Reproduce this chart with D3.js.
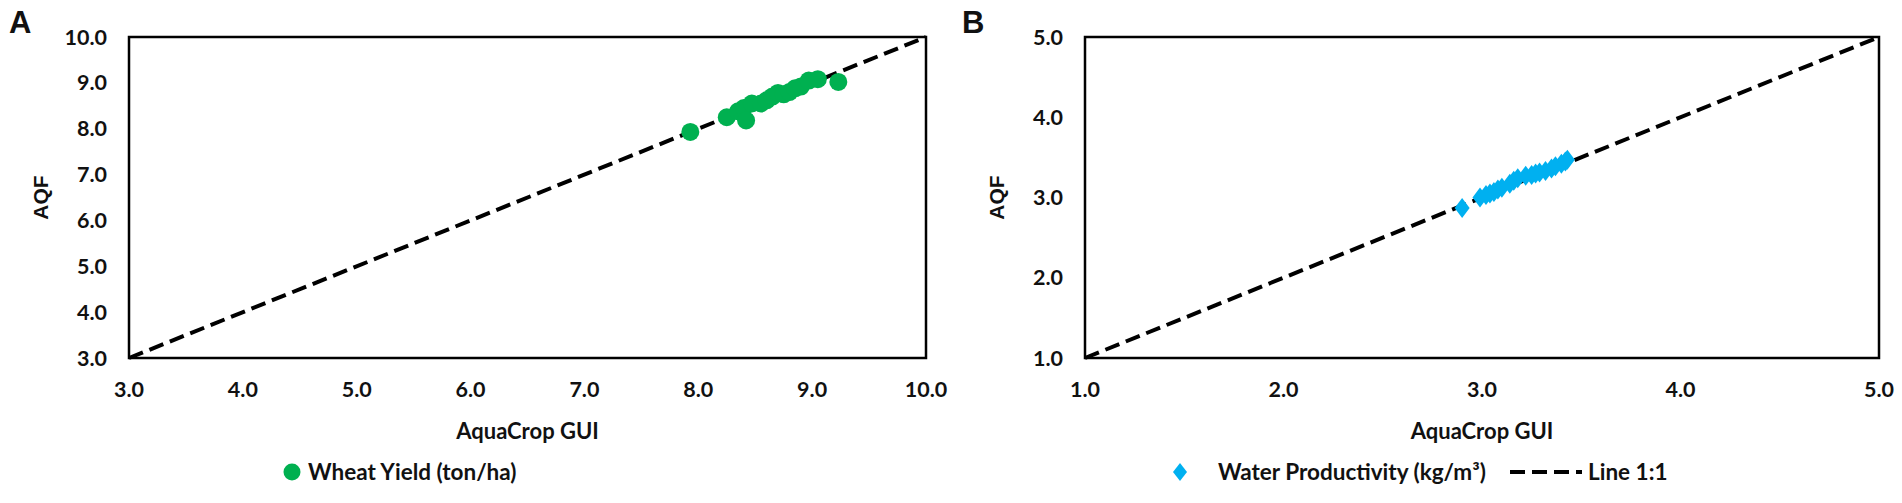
<!DOCTYPE html>
<html>
<head>
<meta charset="utf-8">
<script src="https://cdn.jsdelivr.net/npm/d3@7"></script>
<style>
  html, body { margin: 0; padding: 0; background: #fff; }
  svg { display: block; }
  .tick-label { font-family: Lato, "Open Sans", sans-serif; font-weight: 700; font-size: 21.5px; fill: #111; }
  .axis-title { font-family: Lato, "Open Sans", sans-serif; font-weight: 700; font-size: 22px; fill: #111; }
  .y-title { font-family: "Liberation Sans", Arial, sans-serif; font-weight: 700; font-size: 21px; fill: #111; }
  .panel-label { font-family: "Liberation Sans", Arial, sans-serif; font-weight: 700; font-size: 31px; fill: #111; }
  .legend-label { font-family: Lato, "Open Sans", sans-serif; font-weight: 700; font-size: 22.5px; fill: #111; }
</style>
</head>
<body>
<div id="chart"></div>
<script>
// Panel A: wheat yield (ton/ha)
const wheatGui = [7.93, 8.25, 8.35, 8.40, 8.42, 8.47, 8.55, 8.60, 8.65, 8.70, 8.75, 8.80, 8.85, 8.90, 8.97, 9.05, 9.23];
const wheatAqf = [7.93, 8.25, 8.38, 8.45, 8.18, 8.55, 8.55, 8.62, 8.70, 8.78, 8.75, 8.80, 8.88, 8.92, 9.05, 9.08, 9.02];
const ticksA = [3, 4, 5, 6, 7, 8, 9, 10];

// Panel B: water productivity (kg/m3)
const wpGui = [2.90, 2.99, 3.02, 3.04, 3.06, 3.08, 3.10, 3.14, 3.16, 3.18, 3.22, 3.25, 3.27, 3.29, 3.32, 3.35, 3.37, 3.40, 3.42, 3.43];
const wpAqf = [2.87, 3.00, 3.03, 3.05, 3.07, 3.10, 3.12, 3.17, 3.21, 3.24, 3.27, 3.28, 3.30, 3.31, 3.33, 3.36, 3.39, 3.42, 3.45, 3.47];
const ticksB = [1, 2, 3, 4, 5];

const W = 1902, H = 503;
const svg = d3.select('#chart').append('svg')
  .attr('width', W).attr('height', H);

const fmt = d3.format('.1f');
const dash = '15,7';
const diamond = (hw, hh) => `M0,${-hh}L${hw},0L0,${hh}L${-hw},0Z`;

function drawPanel(opts) {
  const { left, right, top, bottom, ticks, gui, aqf, color, marker, label, labelX } = opts;
  const dom = [ticks[0], ticks[ticks.length - 1]];
  const x = d3.scaleLinear().domain(dom).range([left, right]);
  const y = d3.scaleLinear().domain(dom).range([bottom, top]);
  const g = svg.append('g');

  // y tick labels
  g.selectAll('.ylab').data(ticks).join('text')
    .attr('class', 'tick-label')
    .attr('x', left - 22)
    .attr('y', d => y(d))
    .attr('dy', '0.35em')
    .attr('text-anchor', 'end')
    .text(fmt);

  // x tick labels
  g.selectAll('.xlab').data(ticks).join('text')
    .attr('class', 'tick-label')
    .attr('x', d => x(d))
    .attr('y', bottom + 31)
    .attr('dy', '0.35em')
    .attr('text-anchor', 'middle')
    .text(fmt);

  // 1:1 line
  g.append('line')
    .attr('x1', x(dom[0])).attr('y1', y(dom[0]))
    .attr('x2', x(dom[1])).attr('y2', y(dom[1]))
    .attr('stroke', '#000').attr('stroke-width', 4)
    .attr('stroke-dasharray', dash);

  // plot frame
  g.append('rect')
    .attr('x', left).attr('y', top)
    .attr('width', right - left).attr('height', bottom - top)
    .attr('fill', 'none').attr('stroke', '#000').attr('stroke-width', 2.5);

  // points
  const pts = gui.map((v, i) => [v, aqf[i]]);
  if (marker === 'circle') {
    g.selectAll('.pt').data(pts).join('circle')
      .attr('cx', d => x(d[0])).attr('cy', d => y(d[1]))
      .attr('r', 9).attr('fill', color);
  } else {
    g.selectAll('.pt').data(pts).join('path')
      .attr('transform', d => `translate(${x(d[0])},${y(d[1])})`)
      .attr('d', diamond(7.5, 10))
      .attr('fill', color);
  }

  // axis titles
  g.append('text')
    .attr('class', 'axis-title')
    .attr('x', (left + right) / 2)
    .attr('y', bottom + 73)
    .attr('dy', '0.35em')
    .attr('text-anchor', 'middle')
    .text('AquaCrop GUI');

  g.append('text')
    .attr('class', 'y-title')
    .attr('transform', `translate(${left - 88},${(top + bottom) / 2}) rotate(-90)`)
    .attr('dy', '0.35em')
    .attr('text-anchor', 'middle')
    .text('AQF');

  g.append('text')
    .attr('class', 'panel-label')
    .attr('x', labelX).attr('y', 33)
    .text(label);

  return { x, y };
}

drawPanel({
  left: 129, right: 926, top: 37, bottom: 358,
  ticks: ticksA, gui: wheatGui, aqf: wheatAqf,
  color: '#00b050', marker: 'circle', label: 'A', labelX: 9
});

drawPanel({
  left: 1085, right: 1879, top: 37, bottom: 358,
  ticks: ticksB, gui: wpGui, aqf: wpAqf,
  color: '#00b0f0', marker: 'diamond', label: 'B', labelX: 962
});

// Legends
const legY = 472;
const legA = svg.append('g').attr('transform', `translate(292,${legY})`);
legA.append('circle').attr('r', 8.5).attr('fill', '#00b050');
legA.append('text').attr('class', 'legend-label')
  .attr('x', 16).attr('dy', '0.35em').text('Wheat Yield (ton/ha)');

const legB = svg.append('g').attr('transform', `translate(1180,${legY})`);
legB.append('path').attr('d', diamond(7, 9)).attr('fill', '#00b0f0');
legB.append('text').attr('class', 'legend-label')
  .attr('x', 38).attr('dy', '0.35em').text('Water Productivity (kg/m³)');
legB.append('line')
  .attr('x1', 330).attr('x2', 402)
  .attr('stroke', '#000').attr('stroke-width', 4)
  .attr('stroke-dasharray', dash);
legB.append('text').attr('class', 'legend-label')
  .attr('x', 408).attr('dy', '0.35em').text('Line 1:1');
</script>
</body>
</html>
